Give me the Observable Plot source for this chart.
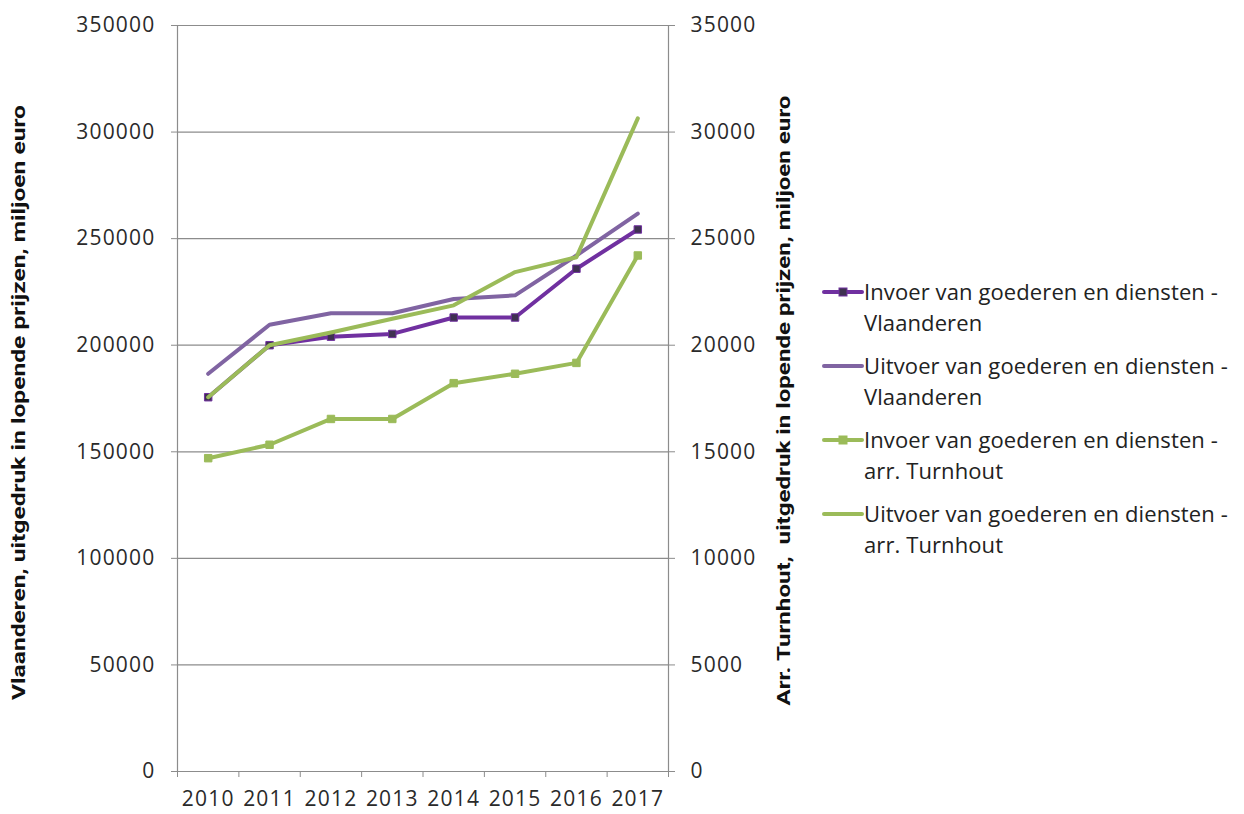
<!DOCTYPE html>
<html>
<head>
<meta charset="utf-8">
<script src="https://cdn.jsdelivr.net/npm/d3@7"></script>
<script src="https://cdn.jsdelivr.net/npm/@observablehq/plot@0.6"></script>
<style>
  html, body { margin: 0; padding: 0; background: #fff; }
  #wrap { position: relative; width: 1244px; height: 814px; }
  #legend { position: absolute; left: 822px; top: 276px; font-family: "Open Sans", sans-serif; font-size: 22px; color: #222; }
  .entry { display: flex; align-items: flex-start; margin-bottom: 12px; }
  .entry svg { flex: none; margin-top: 6px; }
  .entry .txt { line-height: 31px; letter-spacing: 0.1px; }
</style>
</head>
<body>
<div id="wrap"><div id="chart"></div><div id="legend"></div></div>
<script>
const years = [2010, 2011, 2012, 2013, 2014, 2015, 2016, 2017];
const invoerVlaanderen = [175600, 200000, 204000, 205300, 213000, 213000, 235900, 254300];
const uitvoerVlaanderen = [186600, 209600, 215000, 215000, 221700, 223400, 242100, 261700];
const invoerTurnhout = [14700, 15330, 16540, 16540, 18220, 18660, 19170, 24210];
const uitvoerTurnhout = [17560, 20000, 20600, 21240, 21870, 23430, 24130, 30640];
const leftTicks = [0, 50000, 100000, 150000, 200000, 250000, 300000, 350000];
const rightTicks = [0, 5000, 10000, 15000, 20000, 25000, 30000, 35000];
const yearEdges = [2009.5, 2010.5, 2011.5, 2012.5, 2013.5, 2014.5, 2015.5, 2016.5, 2017.5];

const seriesNames = [
  "Invoer van goederen en diensten - Vlaanderen",
  "Uitvoer van goederen en diensten - Vlaanderen",
  "Invoer van goederen en diensten - arr. Turnhout",
  "Uitvoer van goederen en diensten - arr. Turnhout"
];
const legendLines = [
  ["Invoer van goederen en diensten -", "Vlaanderen"],
  ["Uitvoer van goederen en diensten -", "Vlaanderen"],
  ["Invoer van goederen en diensten -", "arr. Turnhout"],
  ["Uitvoer van goederen en diensten -", "arr. Turnhout"]
];
const colors = ["#7030A0", "#8064A2", "#9BBB59", "#9BBB59"];
const markerFill = ["#3F3151", null, "#9BBB59", null];

const rows = [];
years.forEach((yr, i) => {
  rows.push({year: yr, series: 0, y: invoerVlaanderen[i]});
  rows.push({year: yr, series: 1, y: uitvoerVlaanderen[i]});
  rows.push({year: yr, series: 2, y: invoerTurnhout[i] * 10});
  rows.push({year: yr, series: 3, y: uitvoerTurnhout[i] * 10});
});

const gray = "#8c8c8c";
const tickFont = {fontSize: 21, fontFamily: "Open Sans"};

const lineMarks = [];
[0, 1, 2, 3].forEach(s => {
  const d = rows.filter(r => r.series === s);
  lineMarks.push(Plot.line(d, {x: "year", y: "y", stroke: colors[s], strokeWidth: 4, strokeLinejoin: "round", strokeLinecap: "round"}));
  if (markerFill[s]) {
    lineMarks.push(Plot.dot(d, {x: "year", y: "y", symbol: "square", r: 4.2, fill: markerFill[s], stroke: s === 0 ? "#7030A0" : "#9BBB59", strokeWidth: 1}));
  }
});

const chart = Plot.plot({
  width: 1244,
  height: 814,
  marginLeft: 177,
  marginRight: 576,
  marginTop: 25,
  marginBottom: 43,
  style: {background: "white", fontFamily: "Open Sans", color: "#333"},
  x: {type: "linear", domain: [2009.5, 2017.5]},
  y: {domain: [0, 350000]},
  marks: [
    Plot.ruleY(leftTicks, {stroke: gray, strokeWidth: 1.2}),
    Plot.ruleX([2009.5, 2017.5], {stroke: gray, strokeWidth: 1.2}),
    Plot.axisY({ticks: leftTicks, tickFormat: d => String(d), tickSize: 6, stroke: gray, tickPadding: 16, ...tickFont, fill: "#2a2a2a", label: null}),
    Plot.axisY({anchor: "right", ticks: rightTicks.map(v => v * 10), tickFormat: d => String(d / 10), tickSize: 6, stroke: gray, tickPadding: 16, ...tickFont, fill: "#2a2a2a", label: null}),
    Plot.axisX({ticks: yearEdges, tickFormat: () => "", tickSize: 6, stroke: gray, label: null}),
    Plot.axisX({ticks: years, tickFormat: d => String(d), tickSize: 0, tickPadding: 20, ...tickFont, fill: "#2a2a2a", label: null}),
    ...lineMarks,
    Plot.text(["Vlaanderen, uitgedruk in lopende prijzen, miljoen euro"], {frameAnchor: "left", textAnchor: "middle", dx: -159, dy: 4, rotate: -90, fontSize: 19, fontWeight: "bold", fontFamily: "Roboto", fill: "#111", className: "ytitle-left"}),
    Plot.text(["Arr. Turnhout,  uitgedruk in lopende prijzen, miljoen euro"], {frameAnchor: "right", textAnchor: "middle", dx: 115, dy: 2, rotate: -90, fontSize: 19, fontWeight: "bold", fontFamily: "Roboto", fill: "#111", className: "ytitle-right"})
  ]
});

chart.querySelectorAll("g[aria-label='y-axis tick label'] text, g[aria-label='x-axis tick label'] text").forEach(t => t.setAttribute("letter-spacing", "1.2"));
const lt = chart.querySelector(".ytitle-left text");
if (lt) { lt.setAttribute("textLength", 595); lt.setAttribute("lengthAdjust", "spacingAndGlyphs"); }
const rt = chart.querySelector(".ytitle-right text");
if (rt) { rt.setAttribute("textLength", 610); rt.setAttribute("lengthAdjust", "spacingAndGlyphs"); }

document.getElementById("chart").appendChild(chart);

const legend = document.getElementById("legend");
[0, 1, 2, 3].forEach(s => {
  const e = document.createElement("div");
  e.className = "entry";
  const sym = d3.create("svg").attr("width", 42).attr("height", 20);
  sym.append("line").attr("x1", 2).attr("x2", 40).attr("y1", 10).attr("y2", 10).attr("stroke", colors[s]).attr("stroke-width", 4).attr("stroke-linecap", "round");
  if (markerFill[s]) sym.append("rect").attr("x", 17).attr("y", 6).attr("width", 8).attr("height", 8).attr("fill", markerFill[s]).attr("stroke", colors[s]);
  e.appendChild(sym.node());
  const t = document.createElement("div");
  t.className = "txt";
  t.innerHTML = legendLines[s].join("<br>");
  t.title = seriesNames[s];
  e.appendChild(t);
  legend.appendChild(e);
});
</script>
</body>
</html>
